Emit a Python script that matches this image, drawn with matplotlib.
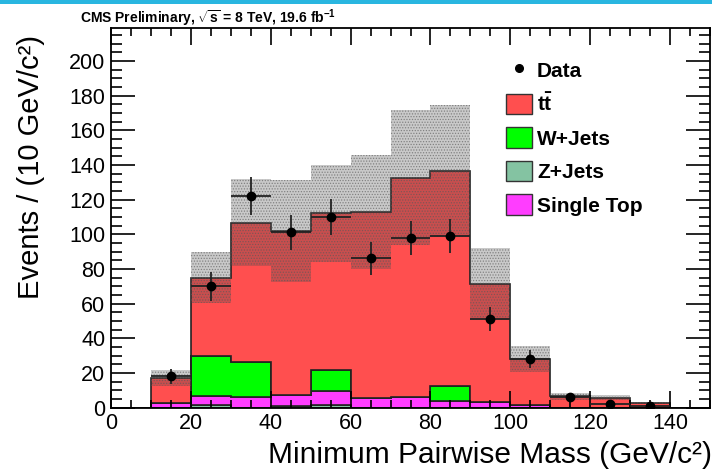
import numpy as np
import matplotlib
matplotlib.use('Agg')
from matplotlib import pyplot as plt
from matplotlib.patches import Patch, Rectangle
from matplotlib.lines import Line2D
from matplotlib.ticker import MultipleLocator

plt.rcParams['font.family'] = ['Liberation Sans', 'DejaVu Sans']
plt.rcParams['mathtext.fontset'] = 'custom'
plt.rcParams['mathtext.rm'] = 'Liberation Sans:bold'
plt.rcParams['mathtext.it'] = 'Liberation Sans:bold'
plt.rcParams['mathtext.bf'] = 'Liberation Sans:bold'
plt.rcParams['hatch.linewidth'] = 0.6

# bin edges (GeV/c^2)
edges = np.arange(0, 160, 10)

# stacked MC, one value per bin
zjets = [0, 0, 1.7, 0, 0.8, 1.3, 0, 0, 0, 0, 0, 0, 0, 0, 0]
single_top = [0, 2.7, 4.8, 6.1, 6.3, 8.5, 5.6, 5.9, 3.6, 3.3, 1.7, 0, 0, 0, 0]
wjets = [0, 0, 23.4, 20.1, 0, 11.7, 0, 0, 9.0, 0, 0, 0, 0, 0, 0]
ttbar = [0, 14.3, 45.1, 80.5, 94.9, 90.5, 107.4, 126.6, 123.8, 68.0, 26.5, 6.5, 5.6, 2.7, 0]
mc_unc = [0, 4.4, 14.5, 25.0, 29.5, 28.0, 33.0, 39.0, 38.0, 20.7, 7.5, 2.0, 1.5, 0.5, 0]

# data
data_x = [15, 25, 35, 45, 55, 65, 75, 85, 95, 105, 115, 125, 135]
data_y = [18, 70, 122, 101, 110, 86, 98, 99, 51, 28, 6, 2, 1]

col_z, col_st, col_w, col_tt = '#84c3a2', '#ff3dff', '#00ff00', '#ff4f4f'
lab_tt = r't$\bar{\mathrm{t}}$'

# drawn bottom to top
stack = [(zjets, col_z), (single_top, col_st), (wjets, col_w), (ttbar, col_tt)]

fig = plt.figure(figsize=(7.12, 4.71), dpi=100)
fig.patches.append(Rectangle((0, 1 - 4 / 471), 1, 4 / 471, transform=fig.transFigure,
                             facecolor='#29b6e0', edgecolor='none'))
ax = fig.add_axes([111 / 712, 1 - 407.5 / 471, 599 / 712, 379.5 / 471])

bottom = np.zeros(len(edges) - 1)
for vals, col in stack:
    top = bottom + np.array(vals)
    ax.stairs(top, edges, baseline=bottom, fill=True, facecolor=col,
              edgecolor='#222222', linewidth=1.2)
    bottom = top

total = bottom
unc = np.array(mc_unc)
ax.stairs(total + unc, edges, baseline=total - unc, fill=True,
          facecolor=(0.3, 0.3, 0.3, 0.3), edgecolor=(0.35, 0.35, 0.35, 0.6),
          linewidth=0, hatch='......')

ax.errorbar(data_x, data_y, yerr=np.sqrt(data_y), xerr=5, fmt='o', color='black',
            ms=6, elinewidth=1.3, ecolor='#222222', capsize=0, zorder=5)

ax.set_xlim(0, 150)
ax.set_ylim(0, 219)
ax.xaxis.set_major_locator(MultipleLocator(20))
ax.xaxis.set_minor_locator(MultipleLocator(5))
ax.yaxis.set_major_locator(MultipleLocator(20))
ax.yaxis.set_minor_locator(MultipleLocator(5))
ax.tick_params(which='both', direction='in', top=True, right=True, labelsize=15.5, width=1.2)
ax.tick_params(which='major', length=12)
ax.tick_params(which='minor', length=6)
ax.tick_params(axis='y', which='major', length=17, pad=4)
ax.tick_params(axis='y', which='minor', length=8)
ax.tick_params(axis='x', which='major', pad=4)
for s in ax.spines.values():
    s.set_linewidth(1.3)

ax.set_xlabel('Minimum Pairwise Mass (GeV/c²)', fontsize=21.5, loc='right')
ax.set_ylabel('Events / (10 GeV/c²)', fontsize=21, loc='top')
ax.xaxis.set_label_coords(1.004, -0.088)
ax.yaxis.set_label_coords(-0.11, 0.982)

fig.text(80 / 712, 1 - 23 / 471, r'CMS Preliminary, $\sqrt{s}$ = 8 TeV, 19.6 fb$^{-1}$',
         fontsize=10, fontweight='bold', va='baseline')

handles = [Line2D([], [], marker='o', color='black', ls='none', ms=5.5),
           Patch(facecolor=col_tt, edgecolor='#333333'),
           Patch(facecolor=col_w, edgecolor='#333333'),
           Patch(facecolor=col_z, edgecolor='#333333'),
           Patch(facecolor=col_st, edgecolor='#333333')]
labels = ['Data', lab_tt, 'W+Jets', 'Z+Jets', 'Single Top']
ax.legend(handles, labels, loc='upper left', bbox_to_anchor=(0.659, 0.918), frameon=False,
          prop={'weight': 'bold', 'size': 15}, handlelength=1.25, handleheight=1.15,
          labelspacing=0.58, handletextpad=0.25, borderpad=0, borderaxespad=0)

fig.savefig('out.png', dpi=100)
